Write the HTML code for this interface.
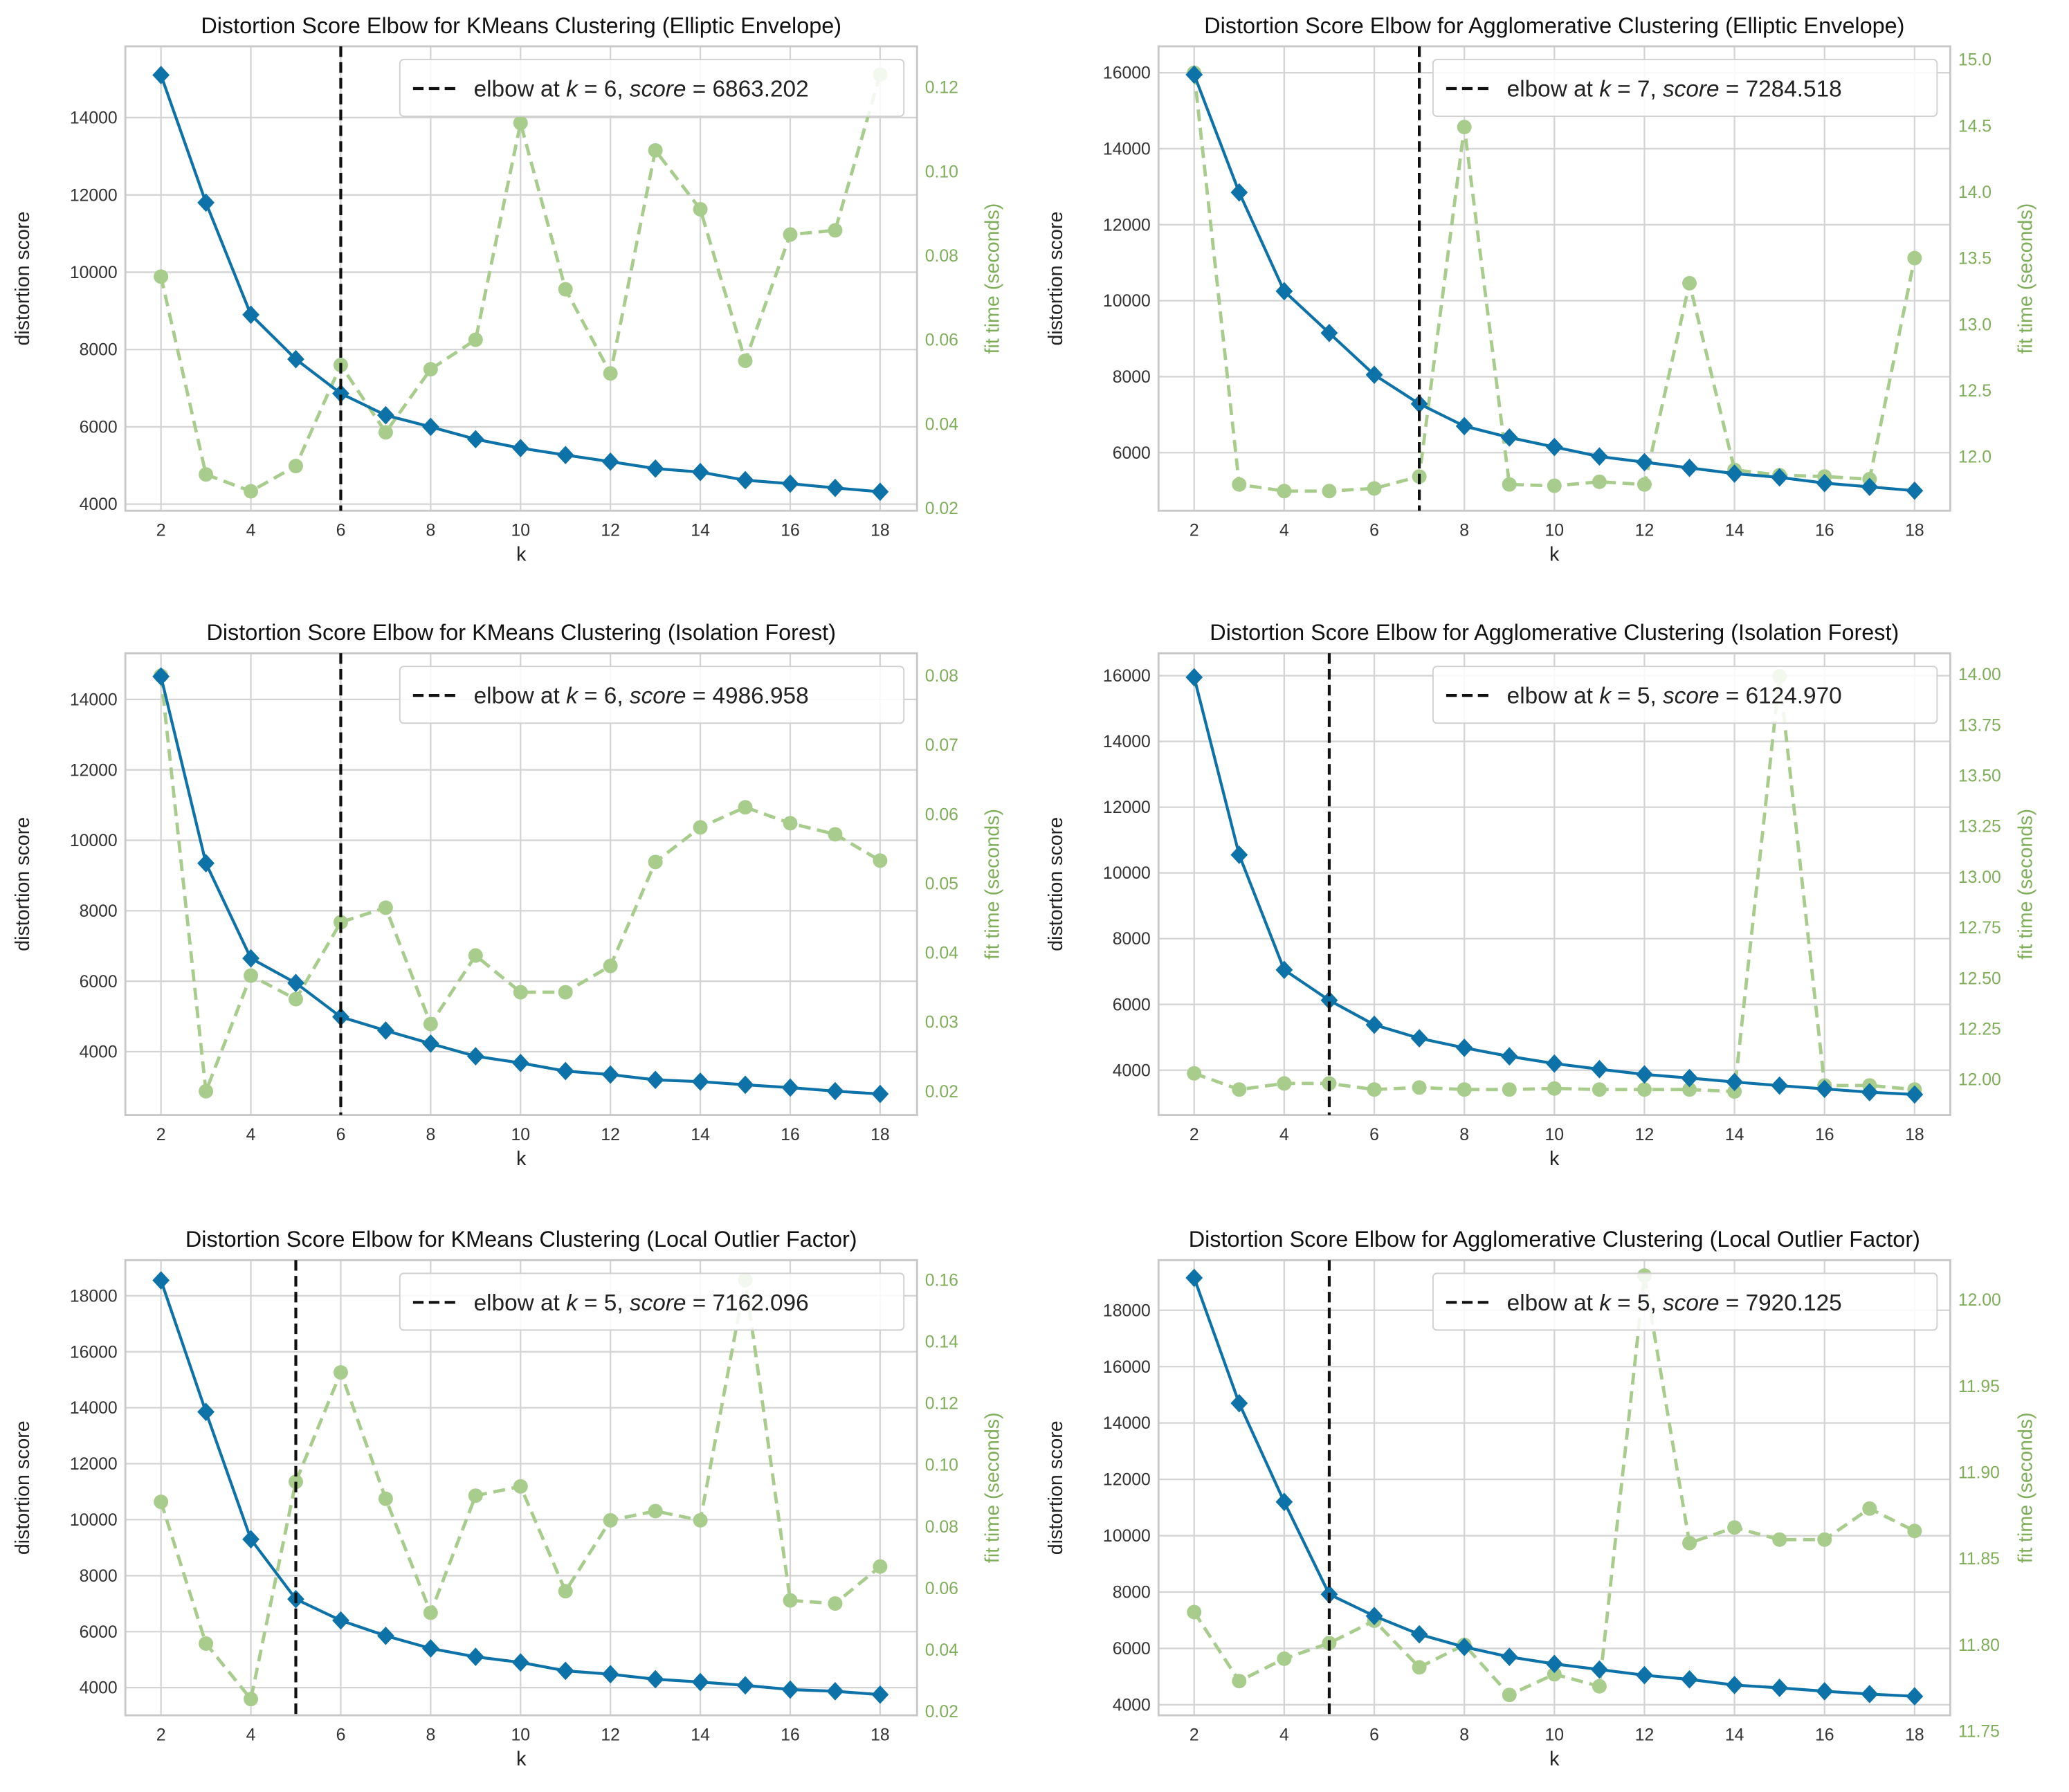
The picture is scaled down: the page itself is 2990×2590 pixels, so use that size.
<!DOCTYPE html>
<html><head><meta charset="utf-8">
<style>
html,body{margin:0;padding:0;background:#fff;}
svg{display:block;font-family:"Liberation Sans","DejaVu Sans",sans-serif;}
</style></head>
<body>
<svg id="fig" width="2990" height="2590" viewBox="0 0 1568 1358" xmlns="http://www.w3.org/2000/svg"></svg>
<script>
const kValues = [2,3,4,5,6,7,8,9,10,11,12,13,14,15,16,17,18];
const titles = [
 "Distortion Score Elbow for KMeans Clustering (Elliptic Envelope)",
 "Distortion Score Elbow for Agglomerative Clustering (Elliptic Envelope)",
 "Distortion Score Elbow for KMeans Clustering (Isolation Forest)",
 "Distortion Score Elbow for Agglomerative Clustering (Isolation Forest)",
 "Distortion Score Elbow for KMeans Clustering (Local Outlier Factor)",
 "Distortion Score Elbow for Agglomerative Clustering (Local Outlier Factor)"];
const elbowK = [6,7,6,5,5,5];
const elbowScore = ["6863.202","7284.518","4986.958","6124.970","7162.096","7920.125"];
const distortion1 = [15100,11800,8900,7750,6863,6300,6000,5680,5450,5270,5100,4920,4830,4620,4530,4420,4320];
const distortion2 = [15950,12850,10250,9150,8050,7285,6700,6400,6150,5900,5750,5600,5450,5350,5200,5100,5000];
const distortion3 = [14650,9350,6650,5950,4987,4600,4230,3870,3680,3450,3350,3200,3150,3060,2980,2880,2800];
const distortion4 = [15950,10550,7050,6125,5380,4970,4680,4420,4200,4030,3870,3760,3640,3530,3430,3330,3260];
const distortion5 = [18550,13850,9300,7162,6400,5850,5400,5100,4900,4600,4480,4300,4200,4080,3930,3870,3750];
const distortion6 = [19150,14700,11200,7920,7150,6500,6050,5700,5450,5250,5050,4900,4700,4600,4480,4380,4300];
const fitTime1 = [0.075,0.028,0.024,0.030,0.054,0.038,0.053,0.060,0.1115,0.072,0.052,0.105,0.091,0.055,0.085,0.086,0.123];
const fitTime2 = [14.9,11.79,11.74,11.74,11.76,11.85,14.49,11.79,11.78,11.81,11.79,13.31,11.9,11.86,11.85,11.83,13.5];
const fitTime3 = [0.080,0.020,0.0367,0.0333,0.0444,0.0465,0.0297,0.0396,0.0343,0.0343,0.0381,0.0531,0.0581,0.061,0.0587,0.0571,0.0533];
const fitTime4 = [12.03,11.95,11.98,11.98,11.95,11.96,11.95,11.95,11.955,11.95,11.95,11.95,11.94,13.99,11.97,11.97,11.95];
const fitTime5 = [0.088,0.042,0.024,0.0945,0.130,0.089,0.052,0.090,0.093,0.059,0.082,0.085,0.082,0.160,0.056,0.055,0.067];
const fitTime6 = [11.819,11.779,11.792,11.801,11.814,11.787,11.80,11.771,11.783,11.776,12.014,11.859,11.868,11.861,11.861,11.879,11.866];
const leftTicks = [[4000,6000,8000,10000,12000,14000],[6000,8000,10000,12000,14000,16000],[4000,6000,8000,10000,12000,14000],[4000,6000,8000,10000,12000,14000,16000],[4000,6000,8000,10000,12000,14000,16000,18000],[4000,6000,8000,10000,12000,14000,16000,18000]];
const rightTicks = [[0.02,0.04,0.06,0.08,0.10,0.12],[12.0,12.5,13.0,13.5,14.0,14.5,15.0],[0.02,0.03,0.04,0.05,0.06,0.07,0.08],[12.00,12.25,12.50,12.75,13.00,13.25,13.50,13.75,14.00],[0.02,0.04,0.06,0.08,0.10,0.12,0.14,0.16],[11.75,11.80,11.85,11.90,11.95,12.00]];
const rightDecimals = [2,1,2,2,2,2];
const xTicks = [2,4,6,8,10,12,14,16,18];
const distortions = [distortion1,distortion2,distortion3,distortion4,distortion5,distortion6];
const fitTimes = [fitTime1,fitTime2,fitTime3,fitTime4,fitTime5,fitTime6];

const layout = [
 {x0:95,x1:695,y0:35,y1:387,kx2:122,kx18:667,L:[4000,382,14000,89],R:[0.02,385,0.12,66]},
 {x0:878,x1:1478,y0:35,y1:387,kx2:905,kx18:1451,L:[6000,343,16000,55],R:[12.0,346,15.0,45]},
 {x0:95,x1:695,y0:495,y1:845,kx2:122,kx18:667,L:[4000,797,14000,530],R:[0.02,827,0.08,512]},
 {x0:878,x1:1478,y0:495,y1:845,kx2:905,kx18:1451,L:[4000,811,16000,512],R:[12.0,818,14.0,511]},
 {x0:95,x1:695,y0:955,y1:1300,kx2:122,kx18:667,L:[4000,1279,18000,982],R:[0.02,1297,0.16,970]},
 {x0:878,x1:1478,y0:955,y1:1300,kx2:905,kx18:1451,L:[4000,1292,18000,993],R:[11.75,1312,12.0,985]}];

const NS="http://www.w3.org/2000/svg";
const svg=document.getElementById('fig');
function mk(tag,attrs,parent,text){const e=document.createElementNS(NS,tag);for(const a in attrs)e.setAttribute(a,attrs[a]);if(text!==undefined)e.textContent=text;(parent||svg).appendChild(e);return e;}
const BLUE="#0d72a8", GREEN="#a8cc8c", GTXT="#7fae5a";

for(let p=0;p<6;p++){
 const Lc=layout[p];
 const xs=k=>Lc.kx2+(k-2)*(Lc.kx18-Lc.kx2)/16;
 const yl=v=>Lc.L[1]+(v-Lc.L[0])*(Lc.L[3]-Lc.L[1])/(Lc.L[2]-Lc.L[0]);
 const yr=v=>Lc.R[1]+(v-Lc.R[0])*(Lc.R[3]-Lc.R[1])/(Lc.R[2]-Lc.R[0]);
 const g=mk('g',{});
 
 
 const t=mk('text',{x:(Lc.x0+Lc.x1)/2,y:Lc.y0-10,'text-anchor':'middle','font-size':17,fill:'#111'},g,titles[p]);
 
 
 xTicks.forEach(k=>{
  const l=mk('line',{x1:xs(k),x2:xs(k),y1:Lc.y0,y2:Lc.y1,stroke:'#d4d4d4','stroke-width':1.2},g);
  
  
  const tx=mk('text',{x:xs(k),y:Lc.y1+19,'text-anchor':'middle','font-size':13,fill:'#333'},g,String(k));
  
  
 });
 leftTicks[p].forEach(v=>{
  const l=mk('line',{x1:Lc.x0,x2:Lc.x1,y1:yl(v),y2:yl(v),stroke:'#d4d4d4','stroke-width':1.2},g);
  
  
  const tx=mk('text',{x:Lc.x0-6,y:yl(v)+4.5,'text-anchor':'end','font-size':13,fill:'#333'},g,String(v));
  
  
 });
 rightTicks[p].forEach(v=>{
  const tx=mk('text',{x:Lc.x1+6,y:yr(v)+4.5,'text-anchor':'start','font-size':13,fill:GTXT},g,v.toFixed(rightDecimals[p]));
  
  
 });
 const fr=mk('rect',{x:Lc.x0,y:Lc.y0,width:Lc.x1-Lc.x0,height:Lc.y1-Lc.y0,fill:'none',stroke:'#c8c8c8','stroke-width':1.5},g);
 
 
 const xl=mk('text',{x:(Lc.x0+Lc.x1)/2,y:Lc.y1+38,'text-anchor':'middle','font-size':15,fill:'#222'},g,'k');
 
 
 const ylx=Lc.x0-73, cy=(Lc.y0+Lc.y1)/2;
 const yt=mk('text',{x:ylx,y:cy,'text-anchor':'middle','font-size':15,fill:'#222',transform:`rotate(-90 ${ylx} ${cy})`},g,'distortion score');
 
 
 const rx=Lc.x1+62;
 const rt=mk('text',{x:rx,y:cy,'text-anchor':'middle','font-size':15,fill:GTXT,transform:`rotate(-90 ${rx} ${cy})`},g,'fit time (seconds)');
 
 
 const ft=fitTimes[p];
 const fp=mk('polyline',{points:kValues.map((k,i)=>xs(k)+','+yr(ft[i])).join(' '),fill:'none',stroke:GREEN,'stroke-width':2.5,'stroke-dasharray':'9,5'},g);
 
 
 kValues.forEach((k,i)=>{
  const c=mk('circle',{cx:xs(k),cy:yr(ft[i]),r:5.5,fill:GREEN},g);
  
  
 });
 const d=distortions[p];
 const dp=mk('polyline',{points:kValues.map((k,i)=>xs(k)+','+yl(d[i])).join(' '),fill:'none',stroke:BLUE,'stroke-width':2.2},g);
 
 
 kValues.forEach((k,i)=>{
  const x=xs(k),y=yl(d[i]);
  const m=mk('polygon',{points:`${x},${y-7} ${x+6.5},${y} ${x},${y+7} ${x-6.5},${y}`,fill:BLUE},g);
  
  
 });
 const ex=xs(elbowK[p]);
 const el=mk('line',{x1:ex,x2:ex,y1:Lc.y0,y2:Lc.y1,stroke:'#111','stroke-width':2.2,'stroke-dasharray':'8,4'},g);
 
 
 const lx=Lc.x1-392, ly=Lc.y0+10;
 const lg=mk('g',{},g);
 
 
 mk('rect',{x:lx,y:ly,width:382,height:43,rx:3,fill:'#fff','fill-opacity':0.85,stroke:'#d0d0d0'},lg);
 mk('line',{x1:lx+10,x2:lx+46,y1:ly+22,y2:ly+22,stroke:'#111','stroke-width':2.2,'stroke-dasharray':'8,4'},lg);
 const lt=mk('text',{x:lx+56,y:ly+28,'font-size':17.5,fill:'#222'},lg);
 
 
 lt.innerHTML=`elbow at <tspan font-style="italic">k</tspan> = ${elbowK[p]}, <tspan font-style="italic">score</tspan> = ${elbowScore[p]}`;
}
</script>
</body></html>
